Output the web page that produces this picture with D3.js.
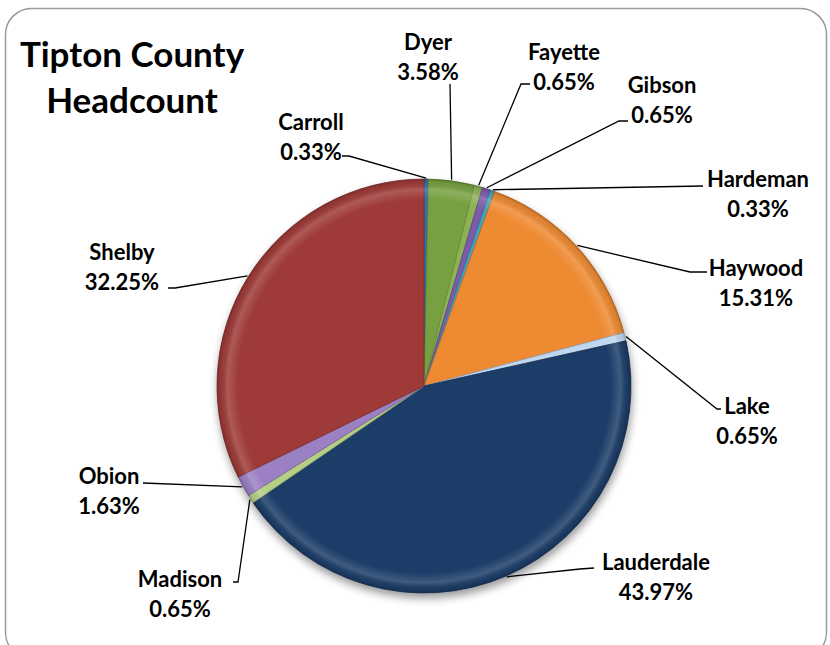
<!DOCTYPE html>
<html><head><meta charset="utf-8">
<script src="https://cdn.jsdelivr.net/npm/d3@7"></script>
<style>
html,body{margin:0;padding:0;background:#fff;}
svg{display:block;}
</style></head>
<body>
<svg id="chart" width="830" height="645"></svg>
<script>
// ---- data ----
const categories = ["Carroll","Dyer","Fayette","Gibson","Hardeman","Haywood","Lake","Lauderdale","Madison","Obion","Shelby"];
const percents   = [0.33, 3.58, 0.65, 0.65, 0.33, 15.31, 0.65, 43.97, 0.65, 1.63, 32.25];
const valueLabels = ["0.33%","3.58%","0.65%","0.65%","0.33%","15.31%","0.65%","43.97%","0.65%","1.63%","32.25%"];
const title = ["Tipton County","Headcount"];

// ---- styling / layout ----
const colors = ["#2E6FB5","#77A040","#8DB255","#7B5BA8","#3FA5BE","#EE8A33","#BFD7EF","#1F3D68","#B5CF85","#9B80C4","#9E3B39"];
// label text centre (x,y of first line) and leader elbow/end points
const labelLayout = [
  {x:311, y:124, pts:[[349,156],[342,156]]},
  {x:428, y:44,  pts:[[450,84]]},
  {x:564, y:54,  pts:[[521,84],[530,84]]},
  {x:662, y:87,  pts:[[619,121],[628,121]]},
  {x:758, y:181, pts:[[703,186]]},
  {x:756, y:270, pts:[[690,272],[707,272]]},
  {x:747, y:408, pts:[[717,409],[721,409]]},
  {x:656, y:564, pts:[[580,569],[594,568]]},
  {x:180, y:581, pts:[[238,582],[233,582]]},
  {x:109, y:478, pts:[[143,483]]},
  {x:122, y:254, pts:[[175,288],[168,288]]}
];
const cx = 424, cy = 386, R = 207;

const svg = d3.select("#chart");
const defs = svg.append("defs");

// border
svg.append("rect").attr("x",5.5).attr("y",8.5).attr("width",821).attr("height",650)
  .attr("rx",26).attr("fill","#fff").attr("stroke","#9a9a9a").attr("stroke-width",1.5);

// drop shadow
const f = defs.append("filter").attr("id","sh").attr("x","-20%").attr("y","-20%").attr("width","140%").attr("height","140%");
f.append("feGaussianBlur").attr("in","SourceAlpha").attr("stdDeviation",4).attr("result","b");
f.append("feOffset").attr("in","b").attr("dx",1).attr("dy",5).attr("result","o");
f.append("feComponentTransfer").attr("in","o").attr("result","o2")
  .append("feFuncA").attr("type","linear").attr("slope",0.4);
const fm = f.append("feMerge");
fm.append("feMergeNode").attr("in","o2");
fm.append("feMergeNode").attr("in","SourceGraphic");

// bevel rim gradient (user space, centred on pie)
const rg = defs.append("radialGradient").attr("id","rim").attr("gradientUnits","userSpaceOnUse")
  .attr("cx",0).attr("cy",0).attr("r",R);
rg.append("stop").attr("offset","0%").attr("stop-color","#fff").attr("stop-opacity",0);
rg.append("stop").attr("offset","90%").attr("stop-color","#fff").attr("stop-opacity",0);
rg.append("stop").attr("offset","95%").attr("stop-color","#fff").attr("stop-opacity",0.16);
rg.append("stop").attr("offset","98.5%").attr("stop-color","#000").attr("stop-opacity",0.06);
rg.append("stop").attr("offset","100%").attr("stop-color","#000").attr("stop-opacity",0.22);

const pie = d3.pie().sort(null).value(d => d)(percents);
const arc = d3.arc().innerRadius(0).outerRadius(R);
const edge = d3.arc().innerRadius(R+1).outerRadius(R+1);

const g = svg.append("g").attr("transform",`translate(${cx},${cy})`);
const slices = g.append("g").attr("filter","url(#sh)");
slices.selectAll("path.s").data(pie).join("path").attr("class","s")
  .attr("d",arc)
  .attr("fill",(d,i)=>colors[i])
  .attr("stroke",(d,i)=>d3.color(colors[i]).darker(0.7))
  .attr("stroke-width",0.8)
  .attr("stroke-linejoin","round");
// bevel shading overlay
g.append("circle").attr("r",R).attr("fill","url(#rim)").attr("pointer-events","none");

// leader lines
const line = d3.line();
svg.append("g").selectAll("path").data(pie).join("path")
  .attr("d",(d,i)=>{
    const c = edge.centroid(d);
    const pts = [[cx+c[0], cy+c[1]], ...labelLayout[i].pts];
    return line(pts);
  })
  .attr("fill","none").attr("stroke","#000").attr("stroke-width",1.3);

// labels
const lab = svg.append("g").attr("font-family","Lato, 'Open Sans', sans-serif")
  .attr("font-weight","bold").attr("font-size","22px").attr("fill","#000").attr("text-anchor","middle");
categories.forEach((c,i)=>{
  const L = labelLayout[i];
  const t = lab.append("text").attr("x",L.x).attr("y",L.y).attr("dominant-baseline","middle");
  t.append("tspan").attr("x",L.x).text(c);
  t.append("tspan").attr("x",L.x).attr("dy",29.5).text(valueLabels[i]);
});

// title
const tt = svg.append("text").attr("font-family","Lato, 'Open Sans', sans-serif")
  .attr("font-weight","bold").attr("font-size","35px").attr("text-anchor","middle")
  .attr("dominant-baseline","middle");
tt.append("tspan").attr("x",132).attr("y",58).text(title[0]);
tt.append("tspan").attr("x",132).attr("y",104).text(title[1]);
</script>
</body></html>
